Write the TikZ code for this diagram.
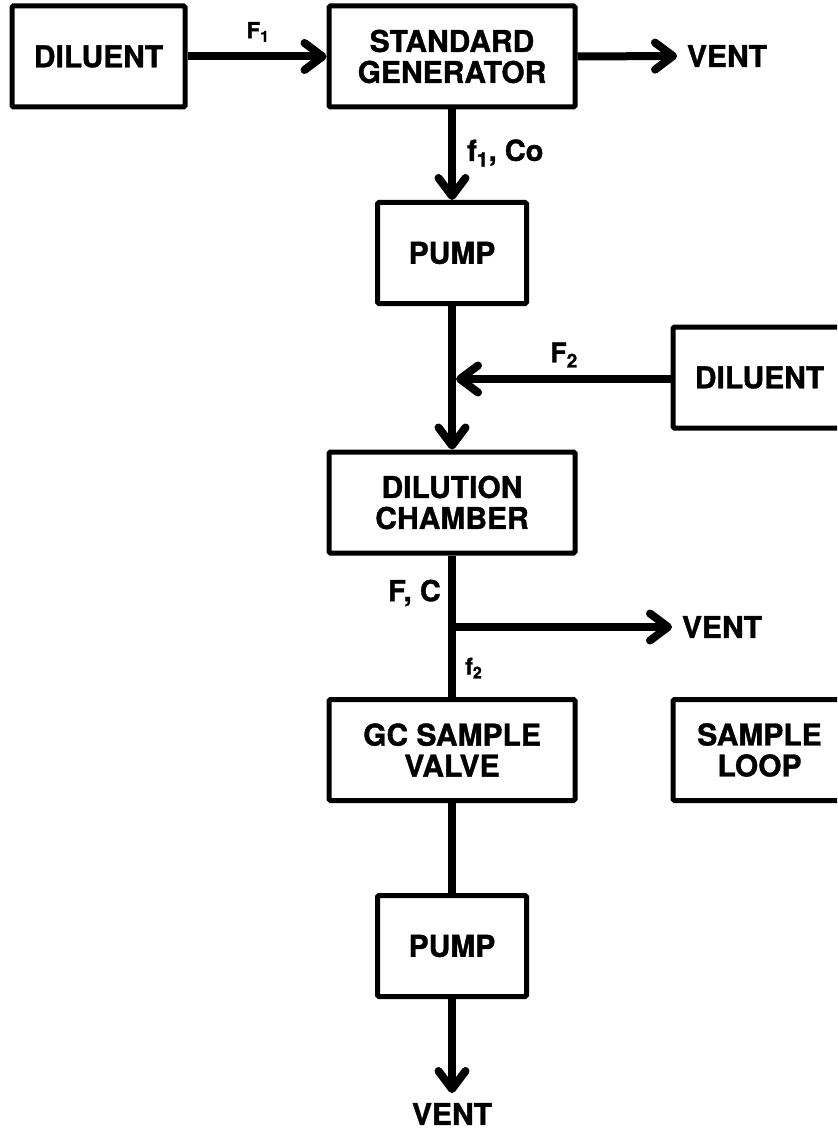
\documentclass[tikz,border=0pt]{standalone}
\usepackage{fontspec}
\setmainfont{TeX Gyre Heros}[BoldFeatures={FakeBold=1.2}]
\usetikzlibrary{arrows.meta}
\tikzset{
  box/.style={draw, line width=5pt, rounded corners=1.5pt, minimum height=101pt,
    font=\bfseries\fontsize{30}{31}\selectfont, align=center, inner sep=0pt},
  wide/.style={box, minimum width=246pt},
  narrow/.style={box, minimum width=149pt},
  side/.style={box, minimum width=173pt},
  word/.style={font=\bfseries\fontsize{30}{31}\selectfont, inner sep=0pt, outer sep=10pt},
  lab/.style={font=\bfseries\fontsize{#1}{#1}\selectfont, inner sep=0pt},
  flow/.style={line width=8pt},
  flowarrow/.style={flow, -{Straight Barb[length=18pt,width=27pt,line cap=round,line join=round]}}
}
\begin{document}
\begin{tikzpicture}[x=1pt,y=-1pt]
\useasboundingbox (0,0) rectangle (837,1131);
\clip (0,0) rectangle (837,1131);
% boxes
\node[side]   (dil1)  at (98.5,56.5) {DILUENT};
\node[wide]   (sg)    at (452,56.5)  {STANDARD\\GENERATOR};
\node[narrow] (pump1) at (452,253)   {PUMP};
\node[side]   (dil2)  at (759.5,377.5) {DILUENT};
\node[wide]   (dc)    at (452,502.5) {DILUTION\\CHAMBER};
\node[wide]   (gc)    at (452,750)   {GC SAMPLE\\VALVE};
\node[side]   (loop)  at (759.5,750) {SAMPLE\\LOOP};
\node[narrow] (pump2) at (452,946)   {PUMP};
% vents
\node[word, anchor=west]  (vent1) at (677,56) {VENT};
\node[word, anchor=west]  (vent2) at (672,627) {VENT};
\node[word, anchor=north] (vent3) at (452,1093) {VENT};
% junctions
\coordinate (j1) at (456,379);
\coordinate (j2) at (452,627);
% connectors
\draw[flowarrow] (dil1.east) -- (sg.west);
\draw[flowarrow] (sg.east) -- (vent1.west);
\draw[flowarrow] (sg.south) -- (pump1.north);
\draw[flowarrow] (pump1.south) -- (dc.north);
\draw[flowarrow] (dil2.west |- j1) -- (j1);
\draw[flow] (dc.south) -- (gc.north);
\draw[flowarrow] (j2) -- (vent2.west);
\draw[flow] (gc.south) -- (pump2.north);
\draw[flowarrow] (pump2.south) -- (vent3.north);
% labels
\node[lab=22] (lf1) at (258,32) {F\textsubscript{1}};
\node[lab=29, anchor=west] (lf1co) at (467,153) {f\textsubscript{1}, Co};
\node[lab=27] (lf2) at (564,355) {F\textsubscript{2}};
\node[lab=29, anchor=east] (lfc) at (441,593) {F, C};
\node[lab=23, anchor=west] (lf2b) at (465,668) {f\textsubscript{2}};
\end{tikzpicture}
\end{document}
